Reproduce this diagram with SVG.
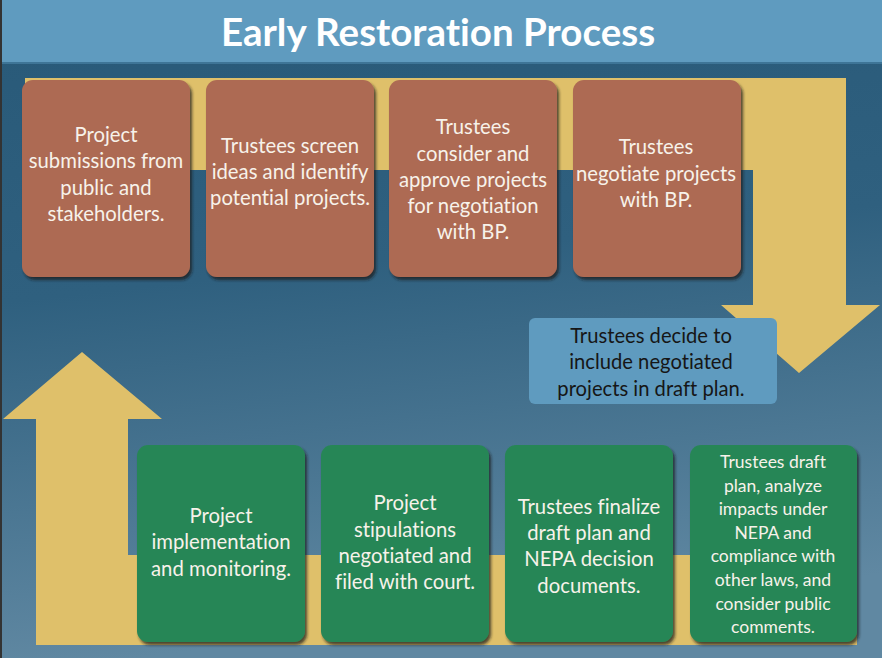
<svg xmlns="http://www.w3.org/2000/svg" width="882" height="658" viewBox="0 0 882 658">
<defs>
<linearGradient id="bg" x1="0" y1="0" x2="0.15" y2="1">
<stop offset="0" stop-color="#285978"/>
<stop offset="0.45" stop-color="#2f607f"/>
<stop offset="1" stop-color="#6088a2"/>
</linearGradient>
<filter id="sh" x="-10%" y="-10%" width="130%" height="130%">
<feDropShadow dx="2" dy="3" stdDeviation="1.5" flood-color="#1a1a1a" flood-opacity="0.75"/>
</filter>
<style>
.brown{fill:#ad6a53;filter:url(#sh)}
.green{fill:#288656;filter:url(#sh)}
.blue{fill:#5f9bbf}
.arrow{fill:#dfc06a}
text{font-family:"Lato","Open Sans","Liberation Sans",sans-serif;font-variant-ligatures:none;text-anchor:middle}
.t{font-size:20.3px;fill:#f7f2ea}
.s{font-size:17.5px}
.td{font-size:20.2px;fill:#161616}
.title{font-size:38.5px;font-weight:bold;fill:#ffffff}
</style>
</defs>
<rect x="0" y="0" width="882" height="658" fill="url(#bg)"/>
<rect x="0" y="0" width="882" height="63" fill="#5f9bbf"/>
<rect x="0" y="62" width="882" height="2" fill="#3e7597"/>
<rect x="0" y="0" width="2" height="658" fill="#333"/>
<text class="title" x="438" y="46">Early Restoration Process</text>
<g id="connectors">
<path class="arrow" d="M25,78 H846 V305 H880 L799,373 L721,305 H753 V170 H25 Z"/>
<path class="arrow" d="M857,555 V645 H36 V419 H3 L82,352 L162,419 H128 V555 Z"/>
</g>
<g id="n1"><rect class="brown" x="22" y="80" width="168" height="197" rx="11"/>
<text class="t"><tspan x="106" y="142">Project</tspan><tspan x="106" y="168">submissions from</tspan><tspan x="106" y="195">public and</tspan><tspan x="106" y="221">stakeholders.</tspan></text></g>
<g id="n2"><rect class="brown" x="206" y="80" width="168" height="197" rx="11"/>
<text class="t"><tspan x="290" y="153">Trustees screen</tspan><tspan x="290" y="179">ideas and identify</tspan><tspan x="290" y="205">potential projects.</tspan></text></g>
<g id="n3"><rect class="brown" x="389" y="80" width="168" height="197" rx="11"/>
<text class="t"><tspan x="473" y="134">Trustees</tspan><tspan x="473" y="161">consider and</tspan><tspan x="473" y="187">approve projects</tspan><tspan x="473" y="213">for negotiation</tspan><tspan x="473" y="239">with BP.</tspan></text></g>
<g id="n4"><rect class="brown" x="573" y="80" width="168" height="197" rx="11"/>
<text class="t"><tspan x="656" y="154">Trustees</tspan><tspan x="656" y="181">negotiate projects</tspan><tspan x="656" y="207">with BP.</tspan></text></g>
<g id="n5"><rect class="blue" x="529" y="318" width="248" height="86" rx="6"/>
<text class="td"><tspan x="651" y="343">Trustees decide to</tspan><tspan x="651" y="369">include negotiated</tspan><tspan x="651" y="396">projects in draft plan.</tspan></text></g>
<g id="n6"><rect class="green" x="690" y="445" width="167" height="197" rx="11"/>
<text class="t s"><tspan x="773" y="468">Trustees draft</tspan><tspan x="773" y="492">plan, analyze</tspan><tspan x="773" y="515">impacts under</tspan><tspan x="773" y="539">NEPA and</tspan><tspan x="773" y="562">compliance with</tspan><tspan x="773" y="586">other laws, and</tspan><tspan x="773" y="610">consider public</tspan><tspan x="773" y="633">comments.</tspan></text></g>
<g id="n7"><rect class="green" x="505" y="445" width="168" height="197" rx="11"/>
<text class="t"><tspan x="589" y="514">Trustees finalize</tspan><tspan x="589" y="540">draft plan and</tspan><tspan x="589" y="566">NEPA decision</tspan><tspan x="589" y="593">documents.</tspan></text></g>
<g id="n8"><rect class="green" x="321" y="445" width="168" height="197" rx="11"/>
<text class="t"><tspan x="405" y="510">Project</tspan><tspan x="405" y="537">stipulations</tspan><tspan x="405" y="563">negotiated and</tspan><tspan x="405" y="589">filed with court.</tspan></text></g>
<g id="n9"><rect class="green" x="137" y="445" width="168" height="197" rx="11"/>
<text class="t"><tspan x="221" y="523">Project</tspan><tspan x="221" y="549">implementation</tspan><tspan x="221" y="576">and monitoring.</tspan></text></g>
</svg>
